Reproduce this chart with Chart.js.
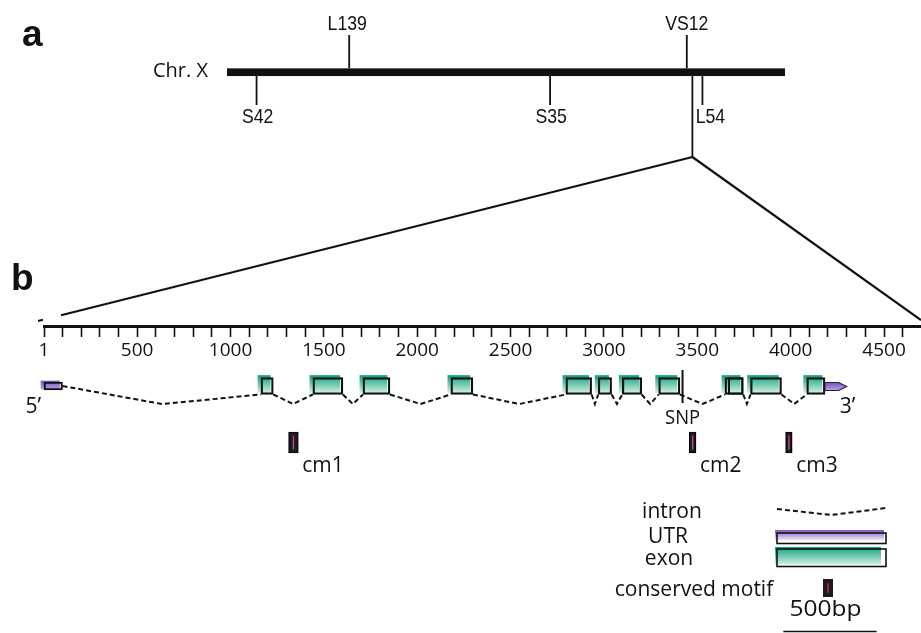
<!DOCTYPE html>
<html lang="en">
<head>
<meta charset="utf-8">
<title>Chr. X gene structure</title>
<script src="https://cdn.jsdelivr.net/npm/chart.js@4.4.1/dist/chart.umd.min.js"></script>
<style>
  html, body { margin: 0; padding: 0; background: #fff; }
  canvas { display: block; }
</style>
</head>
<body>
<canvas id="gene" width="921" height="633"></canvas>
<script>
// ---- Gene model, coordinates in bp ----
const utr5 = [1, 100];
const exonStarts = [1163, 1441, 1709, 2180, 2796, 2969, 3098, 3293, 3648, 3785, 4086];
const exonEnds   = [1229, 1602, 1854, 2298, 2934, 3041, 3202, 3407, 3746, 3951, 4184];
const altExon    = [3666, 3746];
const utr3 = [4184, 4300];
const snpPosition = 3421;
const motifNames  = ['cm1', 'cm2', 'cm3'];
const motifStarts = [1311, 3457, 3973];
const motifEnds   = [1363, 3493, 4008];

// ---- Ruler ----
const rulerLabels = [1, 500, 1000, 1500, 2000, 2500, 3000, 3500, 4000, 4500];
const rulerStep = 100;
const rulerLast = 4600;
const scaleBarBp = 500;

// ---- Chromosome map (relative position along the chromosome, 0-100) ----
const chromosomeName = 'Chr. X';
const chromosomeLength = 100;
const markerNames     = ['S42', 'L139', 'S35', 'VS12', 'L54'];
const markerPositions = [5.3, 21.9, 57.9, 82.4, 85.2];
const markerSides     = ['below', 'above', 'below', 'above', 'below'];
const geneLocus = 83.4;

// ---- Legend ----
const legendLabels = ['intron', 'UTR', 'exon', 'conserved motif'];

// ---- Layout & style ----
const INK = '#111';
const SANS = "'Open Sans', sans-serif";
const NARROW = "'Liberation Sans', Arial, sans-serif";
const TEAL = ['#10a17e', '#cdeee2'];
const LILAC = ['#7a52bd', '#b8a2e0'];
const LILAC_LEGEND = ['#7d56bf', '#f1ecfa'];
const X_RANGE = [-234.66, 4698.1];
const CHR_RANGE = [-40.68, 124.37];
const L = {
  chromY: 72.2, chromThick: 7.7, markerTop: 35, markerBottom: 105,
  labelAboveBase: 29.5, labelBelowBase: 123, apexY: 157,
  zoomLeftY: 321, zoomRightY: 320, rulerY: 326.5, rulerThick: 3,
  geneY: 386, exonThick: 17, utrThick: 8, intronDip: 404,
  snpTop: 370, snpBottom: 403, snpLabelBase: 424, primeBase: 413,
  motifY: 442.5, motifThick: 21, motifLabelBase: 472
};
const markerLabelShift = { L139: -2, S42: 1, S35: 1, L54: 8 };
const LEG = {
  left: 777, right: 886,
  intronY: 509, intronDip: 515, intronBase: 518,
  utrTop: 533, utrH: 10.5, utrBase: 543,
  exonTop: 549, exonH: 17.5, exonBase: 565,
  motifLeft: 823, motifTop: 579, motifW: 10, motifH: 18, motifBase: 596,
  barTextBase: 616, barTextCenter: 825.5, barTextWidth: 72, barY: 631.5, barCenter: 830,
  textCenters: [672, 668, 669, 694]
};

// ---- Helpers ----
function vGradient(ctx, top, bottom, colors) {
  const g = ctx.createLinearGradient(0, top, 0, bottom);
  g.addColorStop(0, colors[0]);
  g.addColorStop(1, colors[1]);
  return g;
}
function rowGradient(context, row, thick, colors) {
  const chart = context.chart;
  if (!chart.chartArea) return colors[0];
  const yc = chart.scales.y.getPixelForValue(row);
  return vGradient(chart.ctx, yc - thick / 2, yc + thick / 2, colors);
}
function drawText(ctx, str, x, base, font, align, opts) {
  opts = opts || {};
  ctx.save();
  ctx.font = font;
  ctx.fillStyle = INK;
  ctx.textBaseline = 'alphabetic';
  ctx.textAlign = 'left';
  const natural = ctx.measureText(str).width;
  const sx = opts.width ? opts.width / natural : (opts.sx || 1);
  const w = natural * sx;
  const left = align === 'center' ? x - w / 2 : align === 'right' ? x - w : x;
  ctx.translate(left, base);
  ctx.scale(sx, 1);
  ctx.fillText(str, 0, 0);
  ctx.restore();
}
function strokeLine(ctx, x0, y0, x1, y1, w) {
  ctx.save();
  ctx.strokeStyle = INK;
  ctx.lineWidth = w;
  ctx.beginPath();
  ctx.moveTo(x0, y0);
  ctx.lineTo(x1, y1);
  ctx.stroke();
  ctx.restore();
}

// ---- Data for the library ----
const exonData = exonStarts.map((s, i) => ({ x: [s, exonEnds[i]], y: L.geneY }));
const motifData = motifStarts.map((s, i) => ({ x: [s, motifEnds[i]], y: L.motifY }));

// introns: dashed dips joining one feature's end to the next feature's start
const intronPoints = [];
function addIntron(x0, y0, x1, y1) {
  intronPoints.push({ x: x0, y: y0 }, { x: (x0 + x1) / 2, y: L.intronDip }, { x: x1, y: y1 }, { x: x1, y: null });
}
const exonBottom = L.geneY + L.exonThick / 2;
addIntron(utr5[1], L.geneY, exonStarts[0], exonBottom);
for (let i = 0; i < exonStarts.length - 1; i++) {
  addIntron(exonEnds[i], exonBottom, exonStarts[i + 1], exonBottom);
}

const rulerTicks = [rulerLabels[0]];
for (let v = rulerStep; v <= rulerLast; v += rulerStep) rulerTicks.push(v);

const barBase = {
  type: 'bar', indexAxis: 'y', xAxisID: 'x', yAxisID: 'y',
  stack: 'gene', grouped: true, borderSkipped: false, clip: false
};

// ---- Annotation drawing ----
function drawGeneAnnotations(chart) {
  const { ctx, scales: { x, y } } = chart;
  // 3' UTR arrow
  const a0 = x.getPixelForValue(utr3[0]);
  const a1 = x.getPixelForValue(utr3[1]);
  const yc = y.getPixelForValue(L.geneY) + 0.5;
  const h = L.utrThick / 2;
  ctx.save();
  ctx.beginPath();
  ctx.moveTo(a0, yc - h);
  ctx.lineTo(a1 - 8, yc - h);
  ctx.lineTo(a1, yc);
  ctx.lineTo(a1 - 8, yc + h);
  ctx.lineTo(a0, yc + h);
  ctx.closePath();
  ctx.fillStyle = vGradient(ctx, yc - h, yc + h, LILAC);
  ctx.fill();
  ctx.strokeStyle = '#2d2140';
  ctx.lineWidth = 1.2;
  ctx.stroke();
  ctx.restore();

  // SNP
  const sx = x.getPixelForValue(snpPosition);
  strokeLine(ctx, sx, y.getPixelForValue(L.snpTop), sx, y.getPixelForValue(L.snpBottom), 2);
  drawText(ctx, 'SNP', sx, y.getPixelForValue(L.snpLabelBase), '20px ' + SANS, 'center', { sx: 0.92 });

  // 5' / 3' ends
  drawText(ctx, '5\u2019', x.getPixelForValue(utr5[0]) - 3, y.getPixelForValue(L.primeBase), '21px ' + SANS, 'right');
  drawText(ctx, '3\u2019', a1 - 7, y.getPixelForValue(L.primeBase), '21px ' + SANS, 'left');

  // conserved motifs: inner stripe + name
  const meta = chart.getDatasetMeta(chart.data.datasets.findIndex(d => d.label === 'conserved motif'));
  meta.data.forEach((el, i) => {
    const left = Math.min(el.x, el.base), right = Math.max(el.x, el.base);
    const mx = (left + right) / 2;
    ctx.save();
    const g = ctx.createLinearGradient(0, el.y - 7, 0, el.y + 7);
    g.addColorStop(0, '#e0306a');
    g.addColorStop(1, '#9a6ad0');
    ctx.strokeStyle = g;
    ctx.lineWidth = 1.3;
    ctx.beginPath();
    ctx.moveTo(mx, el.y - 7);
    ctx.lineTo(mx, el.y + 7);
    ctx.stroke();
    ctx.restore();
    drawText(ctx, motifNames[i], right + 4, y.getPixelForValue(L.motifLabelBase), '21px ' + SANS, 'left');
  });
}

function drawChromosome(chart) {
  const { ctx, scales: { x, y, chr } } = chart;
  const cx = v => chr.getPixelForValue(v);
  const cy = y.getPixelForValue(L.chromY);
  const half = L.chromThick / 2;
  ctx.save();
  ctx.fillStyle = INK;
  ctx.fillRect(cx(0), cy - half, cx(chromosomeLength) - cx(0), L.chromThick);
  ctx.restore();
  drawText(ctx, chromosomeName, cx(0) - 19, y.getPixelForValue(77.3), '20px ' + SANS, 'right');

  markerNames.forEach((name, i) => {
    const px = cx(markerPositions[i]);
    const above = markerSides[i] === 'above';
    const end = y.getPixelForValue(above ? L.markerTop : L.markerBottom);
    strokeLine(ctx, px, above ? cy - half : cy + half, px, end, 1.8);
    const base = y.getPixelForValue(above ? L.labelAboveBase : L.labelBelowBase);
    drawText(ctx, name, px + (markerLabelShift[name] || 0), base, '21px ' + NARROW, 'center', { sx: 0.84 });
  });

  // locus of the gene and the expansion to the ruler
  const gx = cx(geneLocus);
  const apexY = y.getPixelForValue(L.apexY);
  strokeLine(ctx, gx, cy + half, gx, apexY, 1.8);
  const lx = x.getPixelForValue(rulerLabels[0]) - 6;
  const ly = y.getPixelForValue(L.zoomLeftY);
  const slope = (ly - apexY) / (lx - gx);
  const gapA = lx + 5, gapB = lx + 23;
  strokeLine(ctx, gx, apexY, gapB, apexY + slope * (gapB - gx), 2.2);
  strokeLine(ctx, gapA, apexY + slope * (gapA - gx), lx, ly, 2.2);
  const rx = x.getPixelForValue(X_RANGE[1]);
  strokeLine(ctx, gx, apexY, rx, y.getPixelForValue(L.zoomRightY), 2.2);

  // ruler baseline
  const ry = y.getPixelForValue(L.rulerY);
  ctx.save();
  ctx.fillStyle = INK;
  ctx.fillRect(x.getPixelForValue(rulerLabels[0]) - 1, ry - L.rulerThick / 2, rx, L.rulerThick);
  ctx.restore();

  // panel letters
  drawText(ctx, 'a', 22, 46, 'bold 37px ' + NARROW, 'left');
  drawText(ctx, 'b', 11, 290, 'bold 37px ' + NARROW, 'left');
}

function drawLegend(chart) {
  const { ctx, scales: { x } } = chart;
  const f = '21px ' + SANS;
  const w = LEG.right - LEG.left;
  // intron
  drawText(ctx, legendLabels[0], LEG.textCenters[0], LEG.intronBase, f, 'center');
  ctx.save();
  ctx.strokeStyle = INK;
  ctx.lineWidth = 2;
  ctx.setLineDash([5, 3]);
  ctx.beginPath();
  ctx.moveTo(LEG.left, LEG.intronY);
  ctx.lineTo((LEG.left + LEG.right) / 2, LEG.intronDip);
  ctx.lineTo(LEG.right, LEG.intronY - 1);
  ctx.stroke();
  ctx.restore();
  // UTR
  drawText(ctx, legendLabels[1], LEG.textCenters[1], LEG.utrBase, f, 'center');
  ctx.save();
  ctx.fillStyle = vGradient(ctx, LEG.utrTop - 3, LEG.utrTop - 3 + LEG.utrH, LILAC_LEGEND);
  ctx.fillRect(LEG.left - 2, LEG.utrTop - 3, w, LEG.utrH);
  ctx.strokeStyle = INK;
  ctx.lineWidth = 1.6;
  ctx.strokeRect(LEG.left, LEG.utrTop, w, LEG.utrH);
  ctx.restore();
  // exon
  drawText(ctx, legendLabels[2], LEG.textCenters[2], LEG.exonBase, f, 'center');
  ctx.save();
  ctx.fillStyle = vGradient(ctx, LEG.exonTop - 2, LEG.exonTop - 2 + LEG.exonH, TEAL);
  ctx.fillRect(LEG.left - 2, LEG.exonTop - 2, w - 3, LEG.exonH);
  ctx.strokeStyle = INK;
  ctx.lineWidth = 1.6;
  ctx.strokeRect(LEG.left, LEG.exonTop, w, LEG.exonH);
  ctx.restore();
  // conserved motif
  drawText(ctx, legendLabels[3], LEG.textCenters[3], LEG.motifBase, f, 'center');
  ctx.save();
  ctx.fillStyle = '#1d1b20';
  ctx.fillRect(LEG.motifLeft, LEG.motifTop, LEG.motifW, LEG.motifH);
  ctx.strokeStyle = '#e0306a';
  ctx.lineWidth = 1.2;
  ctx.beginPath();
  ctx.moveTo(LEG.motifLeft + LEG.motifW / 2, LEG.motifTop + 4);
  ctx.lineTo(LEG.motifLeft + LEG.motifW / 2, LEG.motifTop + LEG.motifH - 4);
  ctx.stroke();
  ctx.restore();
  // scale bar
  const barLen = x.getPixelForValue(scaleBarBp) - x.getPixelForValue(0);
  drawText(ctx, scaleBarBp + 'bp', LEG.barTextCenter, LEG.barTextBase, f, 'center', { width: LEG.barTextWidth });
  strokeLine(ctx, LEG.barCenter - barLen / 2, LEG.barY, LEG.barCenter + barLen / 2, LEG.barY, 1.5);
}

const geneDiagram = {
  id: 'geneDiagram',
  beforeDatasetDraw(chart, args) {
    const shift = chart.data.datasets[args.index].fillShift;
    if (shift) { chart.ctx.save(); chart.ctx.translate(shift[0], shift[1]); }
  },
  afterDatasetDraw(chart, args) {
    if (chart.data.datasets[args.index].fillShift) chart.ctx.restore();
  },
  afterDatasetsDraw(chart) { drawGeneAnnotations(chart); },
  afterDraw(chart) { drawChromosome(chart); drawLegend(chart); }
};

new Chart(document.getElementById('gene'), {
  data: {
    datasets: [
      { ...barBase, label: 'exon', data: exonData, barThickness: L.exonThick,
        backgroundColor: c => rowGradient(c, L.geneY, L.exonThick, TEAL),
        borderWidth: 0, fillShift: [-3, -2], order: 5 },
      { ...barBase, label: '5\u2019 UTR', data: [{ x: utr5, y: L.geneY }], barThickness: L.utrThick,
        backgroundColor: c => rowGradient(c, L.geneY, L.utrThick, LILAC),
        borderWidth: 0, fillShift: [-3, -1], order: 5 },
      { type: 'line', label: 'intron', data: intronPoints, xAxisID: 'x', yAxisID: 'y',
        borderColor: INK, borderWidth: 2, borderDash: [5, 3], pointRadius: 0,
        spanGaps: false, tension: 0, fill: false, clip: false, order: 4 },
      { ...barBase, label: 'exon outline', data: exonData, barThickness: L.exonThick,
        backgroundColor: 'rgba(0,0,0,0)', borderColor: INK, borderWidth: 1.6, order: 3 },
      { ...barBase, label: 'alternative exon outline', data: [{ x: altExon, y: L.geneY }], barThickness: L.exonThick,
        backgroundColor: 'rgba(0,0,0,0)', borderColor: INK, borderWidth: 1.4, order: 3 },
      { ...barBase, label: '5\u2019 UTR outline', data: [{ x: utr5, y: L.geneY }], barThickness: L.utrThick,
        backgroundColor: 'rgba(0,0,0,0)', borderColor: INK, borderWidth: 1.4, order: 3 },
      { ...barBase, label: 'conserved motif', data: motifData, barThickness: L.motifThick,
        backgroundColor: '#1d1b20', borderColor: '#000', borderWidth: 1.2, order: 2 }
    ]
  },
  options: {
    responsive: false,
    animation: false,
    events: [],
    layout: { padding: 0 },
    plugins: { legend: { display: false }, tooltip: { enabled: false }, title: { display: false } },
    scales: {
      x: {
        type: 'linear', bounds: 'data', min: X_RANGE[0], max: X_RANGE[1], stacked: false, offset: false,
        position: { y: L.rulerY },
        afterBuildTicks: scale => { scale.ticks = rulerTicks.map(v => ({ value: v })); },
        ticks: {
          autoSkip: false, maxRotation: 0, minRotation: 0, padding: 3, color: INK,
          font: { family: SANS, size: 19 },
          callback: v => rulerLabels.includes(v) ? String(v) : ''
        },
        grid: { offset: false, drawOnChartArea: false, drawTicks: true, tickLength: 10, tickWidth: 1.6, tickColor: INK },
        border: { display: false }
      },
      chr: { type: 'linear', axis: 'x', display: false, bounds: 'data', offset: false, min: CHR_RANGE[0], max: CHR_RANGE[1] },
      y: { type: 'linear', display: false, bounds: 'data', offset: false, grid: { offset: false },
           min: 0, max: 633, reverse: true }
    }
  },
  plugins: [geneDiagram]
});
</script>
</body>
</html>
